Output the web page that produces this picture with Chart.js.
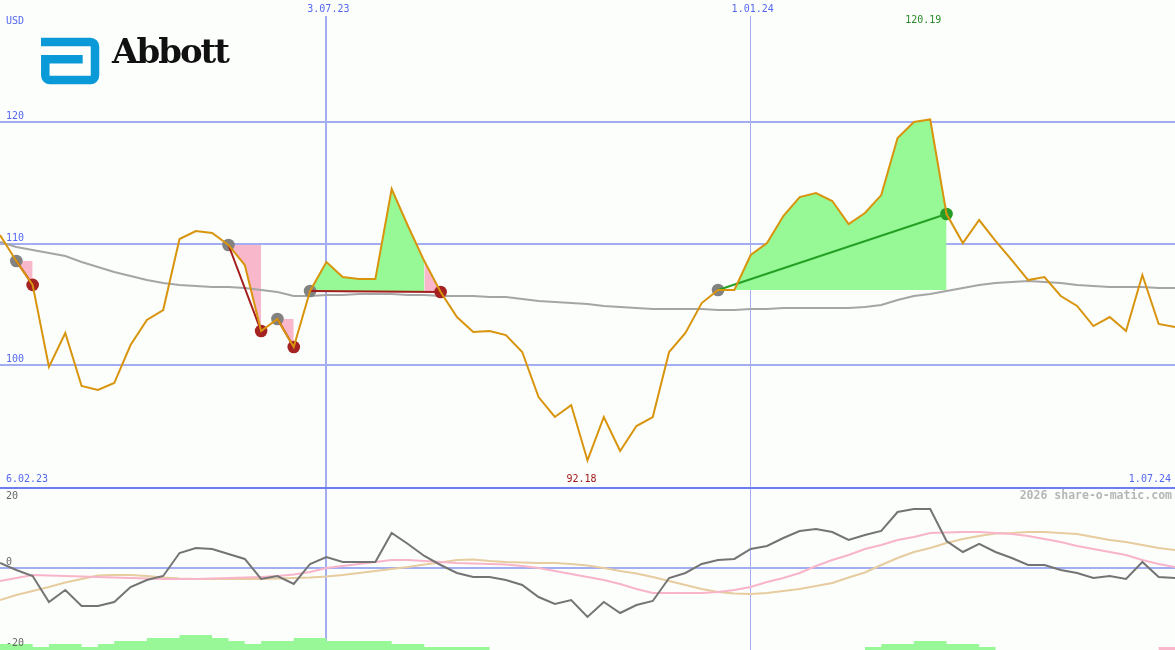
<!DOCTYPE html>
<html><head><meta charset="utf-8">
<script src="https://cdn.jsdelivr.net/npm/chart.js@4.4.1/dist/chart.umd.min.js"></script>
<style>
html,body{margin:0;padding:0;background:#fcfefc;}
#wrap{position:relative;width:1175px;height:650px;overflow:hidden;background:#fcfefc;}
#top{position:absolute;left:0;top:0;}
#bot{position:absolute;left:0;top:489px;}
#sep{position:absolute;left:0;top:487px;width:1175px;height:2px;background:#6e7ef0;}
.t{position:absolute;white-space:nowrap;font-family:"DejaVu Sans Mono",monospace;}
#brand{position:absolute;left:112px;top:34px;font-family:"DejaVu Serif",serif;font-weight:bold;font-size:34px;line-height:34px;letter-spacing:-2px;color:#111;white-space:nowrap;}
#logo{position:absolute;left:0;top:0;}
</style></head>
<body><div id="wrap">
<canvas id="top" width="1175" height="487"></canvas>
<div id="sep"></div>
<canvas id="bot" width="1175" height="161"></canvas>
<svg id="logo" width="110" height="95" viewBox="0 0 110 95"><path d="M41,42 H90.5 A4.5,4.5 0 0 1 95,46.5 V75.5 A4.5,4.5 0 0 1 90.5,80 H49.8 A4.5,4.5 0 0 1 45.3,75.5 V59.2 H82.7" fill="none" stroke="#0a9ad8" stroke-width="8.5" stroke-linejoin="miter"/></svg>
<div id="brand">Abbott</div>
</div>
<script>
// ---- data ----
const currency = 'USD';
const startLabel = '6.02.23';
const endLabel = '1.07.24';
const xGridIdx = [20, 46];
const xGridLabels = ['3.07.23', '1.01.24'];
const priceTicks = [120, 110, 100];
const oscTicks = [20, 0, -20];
const watermark = '2026 share-o-matic.com';

const price = [110.70,108.56,106.60,99.86,102.65,98.30,97.97,98.54,101.66,103.72,
  104.54,110.37,111.03,110.86,109.88,108.23,102.81,103.80,101.50,106.10,
  108.48,107.25,107.08,107.08,114.48,111.44,108.56,106.02,103.96,102.73,
  102.81,102.48,101.09,97.39,95.75,96.73,92.18,95.75,92.96,95.01,
  95.75,101.09,102.65,105.11,106.18,106.18,109.06,110.04,112.26,113.82,
  114.15,113.49,111.60,112.51,113.98,118.67,119.98,120.19,112.42,110.04,
  111.93,110.21,108.64,107.00,107.25,105.69,104.87,103.22,103.96,102.81,
  107.41,103.39,103.14];

const avgLine = [110.12,109.71,109.47,109.22,108.97,108.48,108.07,107.66,107.33,107.00,
  106.76,106.59,106.51,106.43,106.43,106.34,106.18,106.02,105.69,105.69,
  105.77,105.77,105.85,105.85,105.85,105.77,105.77,105.69,105.69,105.69,
  105.61,105.61,105.44,105.28,105.20,105.11,105.03,104.87,104.78,104.70,
  104.62,104.62,104.62,104.62,104.54,104.54,104.62,104.62,104.70,104.70,
  104.70,104.70,104.70,104.78,104.95,105.36,105.69,105.85,106.10,106.34,
  106.59,106.76,106.84,106.92,106.84,106.76,106.59,106.51,106.43,106.43,
  106.43,106.34,106.34];

const buyIdx = [1, 14, 17, 19, 44];
const sellIdx = [2, 16, 18, 27, 58];

const osc = [1.37,-0.55,-2.19,-9.32,-6.03,-10.41,-10.41,-9.32,-5.21,-3.29,
  -2.19,4.11,5.48,5.21,3.84,2.47,-3.01,-2.19,-4.38,1.10,
  3.01,1.64,1.64,1.64,9.59,6.58,3.29,0.82,-1.37,-2.47,
  -2.47,-3.29,-4.66,-7.95,-9.86,-8.77,-13.42,-9.32,-12.33,-10.14,
  -9.04,-2.74,-1.37,1.10,2.19,2.47,5.21,6.03,8.22,10.14,
  10.68,9.86,7.67,9.04,10.14,15.34,16.16,16.16,7.40,4.38,
  6.58,4.38,2.74,0.82,0.82,-0.55,-1.37,-2.74,-2.19,-3.01,
  1.64,-2.47,-2.74];

const sigPink = [-3.56,-2.74,-1.92,-2.05,-2.19,-2.33,-2.47,-2.60,-2.74,-2.88,
  -3.01,-3.01,-3.01,-2.88,-2.74,-2.60,-2.47,-2.19,-1.78,-1.10,
  0,0.55,1.10,1.64,2.19,2.19,1.92,1.64,1.37,1.23,
  1.10,0.96,0.55,0,-0.82,-1.64,-2.47,-3.29,-4.38,-5.75,
  -6.85,-6.85,-6.85,-6.85,-6.58,-6.03,-5.21,-3.84,-2.74,-1.37,
  0.55,2.19,3.56,5.21,6.30,7.67,8.49,9.59,9.73,9.86,
  9.86,9.59,9.32,8.77,7.95,7.12,6.03,5.21,4.38,3.56,
  2.19,1.10,0.27];

const sigTan = [-8.77,-7.40,-6.30,-5.21,-3.97,-3.01,-2.05,-1.92,-1.92,-2.19,
  -2.60,-2.88,-3.01,-3.01,-3.01,-3.01,-3.01,-2.88,-2.74,-2.60,
  -2.33,-1.92,-1.37,-0.82,-0.27,0.27,0.96,1.51,2.19,2.33,
  1.92,1.64,1.51,1.37,1.37,1.10,0.68,0,-0.82,-1.51,
  -2.47,-3.56,-4.66,-5.75,-6.58,-6.99,-7.12,-6.85,-6.30,-5.75,
  -4.93,-4.11,-2.60,-1.23,0.82,2.74,4.38,5.48,6.85,7.95,
  8.77,9.45,9.59,9.86,9.86,9.59,9.32,8.49,7.67,7.12,
  6.30,5.48,4.93];

// weekly histogram levels (positive = green, negative = pink), one per week slot
const volLevels = [2,2,1,2,2,1,2,3,3,4,
  4,5,5,4,3,2,3,3,4,4,
  3,3,3,3,2,2,1,1,1,1,
  0,0,0,0,0,0,0,0,0,0,
  0,0,0,0,0,0,0,0,0,0,
  0,0,0,1,2,2,3,3,2,2,
  1,0,0,0,0,0,0,0,0,0,
  0,-1];

// ---- styles ----
const GRID = '#a3adf2';
const BLUE_TXT = '#5468f0';
const FILL_GREEN = '#96f996';
const FILL_PINK = '#f9b7cb';
const ORANGE = '#d8940c';

const pts = arr => arr.map((v, i) => ({x: i, y: v}));
const lastIdx = price.length - 1;

const topSets = [];
topSets.push({data: pts(price), borderColor: ORANGE, borderWidth: 2, pointRadius: 0, order: 0});
topSets.push({data: pts(avgLine), borderColor: '#a5a5a5', borderWidth: 2, pointRadius: 0, order: 3});

const buyPts = [], sellPts = [], sellCols = [];
buyIdx.forEach((b, k) => {
  const s = sellIdx[k], bp = price[b], sp = price[s], win = sp > bp;
  buyPts.push({x: b, y: bp});
  sellPts.push({x: s, y: sp});
  sellCols.push(win ? '#279b27' : '#a52222');
  topSets.push({data: [{x: b, y: bp}, {x: s, y: sp}], borderColor: win ? '#25a025' : '#a31d1d',
    borderWidth: 2, pointRadius: 0, order: 1});
  const pushRun = (a, e, col) => {
    const d = [];
    for (let j = a; j <= e; j++) d.push({x: j, y: price[j]});
    topSets.push({data: d, fill: {value: bp}, backgroundColor: col, borderColor: 'rgba(0,0,0,0)',
      borderWidth: 0, pointRadius: 0, order: 4});
  };
  let runStart = b, runCol = null;
  for (let j = b; j < s; j++) {
    const c = price[j + 1] >= bp ? FILL_GREEN : FILL_PINK;
    if (runCol === null) { runCol = c; runStart = j; }
    else if (c !== runCol) { pushRun(runStart, j, runCol); runCol = c; runStart = j; }
  }
  pushRun(runStart, s, runCol);
});
topSets.push({data: buyPts, showLine: false, pointRadius: 6.3, pointBorderWidth: 0,
  pointBackgroundColor: '#828282', order: 2});
topSets.push({data: sellPts, showLine: false, pointRadius: 6.3, pointBorderWidth: 0,
  pointBackgroundColor: sellCols, order: 2});

const xScale = () => ({
  type: 'linear', min: 0, max: lastIdx,
  ticks: {display: false}, border: {display: false},
  grid: {drawTicks: false, color: GRID, lineWidth: ctx => (ctx.index === 0 ? 2 : 1)},
  afterBuildTicks: s => { s.ticks = xGridIdx.map(v => ({value: v})); }
});

const common = {
  responsive: false, devicePixelRatio: 1, animation: false, events: [],
  plugins: {legend: {display: false}, tooltip: {enabled: false}, title: {display: false}},
  elements: {line: {tension: 0}}
};

const topChart = new Chart(document.getElementById('top'), {
  type: 'line',
  data: {datasets: topSets},
  options: Object.assign({}, common, {
    layout: {padding: {top: 16, left: 0, right: 0, bottom: 0}, autoPadding: false},
    scales: {
      x: xScale(),
      y: {type: 'linear', min: 90, max: 128.69, ticks: {display: false}, border: {display: false},
        grid: {drawTicks: false, color: GRID, lineWidth: 2},
        afterBuildTicks: s => { s.ticks = priceTicks.map(v => ({value: v})); }}
    }
  })
});

// histogram drawn as stepped filled areas (one step per week)
const stepData = sign => {
  const d = volLevels.map((v, i) => ({x: i, y: Math.max(0, sign * v)}));
  d.push({x: volLevels.length, y: Math.max(0, sign * volLevels[volLevels.length - 1])});
  return d;
};

const botChart = new Chart(document.getElementById('bot'), {
  type: 'line',
  data: {datasets: [
    {data: pts(osc), borderColor: '#747474', borderWidth: 2, pointRadius: 0, order: 0},
    {data: pts(sigPink), borderColor: '#f8b4c8', borderWidth: 2, pointRadius: 0, order: 1},
    {data: pts(sigTan), borderColor: '#e6cc9e', borderWidth: 2, pointRadius: 0, order: 2},
    {yAxisID: 'yv', data: stepData(1), stepped: 'before', fill: {value: 0}, backgroundColor: '#98f898',
      borderColor: 'rgba(0,0,0,0)', borderWidth: 0, pointRadius: 0, order: 5},
    {yAxisID: 'yv', data: stepData(-1), stepped: 'before', fill: {value: 0}, backgroundColor: '#f9b7cb',
      borderColor: 'rgba(0,0,0,0)', borderWidth: 0, pointRadius: 0, order: 5}
  ]},
  options: Object.assign({}, common, {
    layout: {padding: 0, autoPadding: false},
    scales: {
      x: xScale(),
      y: {type: 'linear', min: -22.47, max: 21.64, ticks: {display: false}, border: {display: false},
        grid: {drawTicks: false, color: GRID, lineWidth: 2},
        afterBuildTicks: s => { s.ticks = [{value: 0}]; }},
      yv: {type: 'linear', axis: 'y', display: false, min: 0, max: 53.67}
    }
  })
});

// ---- text labels (real DOM text, positioned from the chart scales) ----
const wrap = document.getElementById('wrap');
function addText(txt, x, yc, align, color, size, bold) {
  const d = document.createElement('div');
  d.className = 't';
  d.textContent = txt;
  d.style.fontSize = size + 'px';
  d.style.lineHeight = size + 'px';
  d.style.color = color;
  if (bold) d.style.fontWeight = 'bold';
  d.style.top = (yc - 0.481 * size) + 'px';
  if (align === 'left') d.style.left = x + 'px';
  else if (align === 'right') d.style.right = (1175 - x) + 'px';
  else { d.style.left = x + 'px'; d.style.transform = 'translateX(-50%)'; }
  wrap.appendChild(d);
}
const tx = topChart.scales.x, ty = topChart.scales.y;
const by = botChart.scales.y;
const botTop = 489, botBottom = 650;

addText(currency, 6, 21, 'left', BLUE_TXT, 10);
priceTicks.forEach(v => addText(String(v), 6, ty.getPixelForValue(v) - 6, 'left', BLUE_TXT, 10));
xGridIdx.forEach((v, k) => addText(xGridLabels[k], tx.getPixelForValue(v) + 2, 9, 'center', BLUE_TXT, 10));

let maxI = 0, minI = 0;
price.forEach((v, i) => { if (v > price[maxI]) maxI = i; if (v < price[minI]) minI = i; });
addText(price[maxI].toFixed(2), tx.getPixelForValue(maxI) - 7, 20, 'center', '#2a8a2a', 10);
addText(price[minI].toFixed(2), tx.getPixelForValue(minI) - 6, 479, 'center', '#a01818', 10);
addText(startLabel, 6, 479, 'left', BLUE_TXT, 10);
addText(endLabel, 1171, 479, 'right', BLUE_TXT, 10);

oscTicks.forEach(v => {
  let yc = botTop + by.getPixelForValue(v) + (v < 0 ? 2 : -6);
  yc = Math.max(botTop + 7, Math.min(botBottom - 7, yc));
  addText(String(v), 6, yc, 'left', '#666666', 10);
});
addText(watermark, 1172, 496, 'right', '#b6b6b6', 11.5, true);
</script>
</body></html>
